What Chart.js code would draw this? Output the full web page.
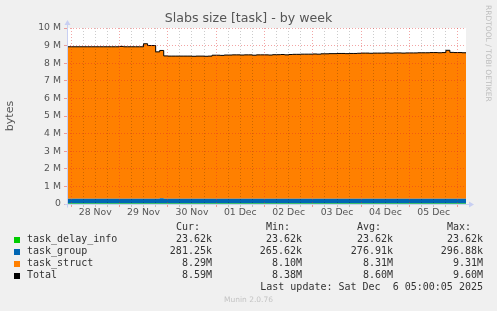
<!DOCTYPE html>
<html><head><meta charset="utf-8">
<script src="https://cdn.jsdelivr.net/npm/chart.js@4/dist/chart.umd.min.js"></script>
<style>
html,body{margin:0;padding:0;background:#f0f0f0;}
#wrap{position:relative;width:497px;height:311px;overflow:hidden;background:#f0f0f0;}
canvas{position:absolute;left:0;top:0;}
.t{position:absolute;white-space:pre;line-height:10px;}
.mono{font-family:"DejaVu Sans Mono",monospace;font-size:10px;color:#333;}
</style></head><body>
<div id="wrap"><canvas id="c" width="497" height="311"></canvas></div>
<script>
// ---- data (values in M bytes), one sample every 2 hours starting 27 Nov 22:00 ----
const taskStruct = [
  8.70, 8.63, 8.63, 8.63, 8.63, 8.63, 8.63, 8.63, 8.63, 8.63,
  8.63, 8.63, 8.63, 8.63, 8.65, 8.63, 8.63, 8.63, 8.63, 8.63,
  8.80, 8.70, 8.70, 8.34, 8.40, 8.11, 8.11, 8.11, 8.11, 8.11,
  8.11, 8.11, 8.10, 8.11, 8.11, 8.10, 8.11, 8.16, 8.16, 8.15,
  8.16, 8.16, 8.17, 8.17, 8.16, 8.17, 8.17, 8.15, 8.17, 8.17,
  8.17, 8.16, 8.18, 8.18, 8.19, 8.17, 8.19, 8.20, 8.20, 8.21,
  8.21, 8.21, 8.22, 8.21, 8.23, 8.23, 8.24, 8.24, 8.25, 8.25,
  8.24, 8.25, 8.25, 8.26, 8.27, 8.27, 8.26, 8.27, 8.27, 8.27,
  8.28, 8.27, 8.28, 8.28, 8.27, 8.28, 8.28, 8.28, 8.29, 8.29,
  8.29, 8.30, 8.30, 8.29, 8.30, 8.43, 8.31, 8.30, 8.30, 8.29
];
const taskGroup = [
  0.28, 0.28, 0.28, 0.28, 0.28, 0.28, 0.28, 0.28, 0.28, 0.28,
  0.28, 0.28, 0.28, 0.28, 0.28, 0.28, 0.28, 0.28, 0.28, 0.28,
  0.28, 0.28, 0.28, 0.28, 0.30, 0.28, 0.27, 0.27, 0.27, 0.27,
  0.27, 0.27, 0.27, 0.27, 0.27, 0.27, 0.27, 0.27, 0.27, 0.27,
  0.28, 0.28, 0.28, 0.28, 0.28, 0.28, 0.28, 0.28, 0.28, 0.28,
  0.28, 0.28, 0.28, 0.28, 0.28, 0.28, 0.28, 0.28, 0.28, 0.28,
  0.28, 0.28, 0.28, 0.28, 0.28, 0.28, 0.28, 0.28, 0.28, 0.28,
  0.28, 0.28, 0.28, 0.28, 0.28, 0.28, 0.28, 0.28, 0.28, 0.28,
  0.28, 0.28, 0.28, 0.28, 0.28, 0.28, 0.28, 0.28, 0.28, 0.28,
  0.28, 0.28, 0.28, 0.28, 0.28, 0.28, 0.28, 0.28, 0.28, 0.28
];
const taskDelayInfo = [
  0.02362,0.02362,0.02362,0.02362,0.02362,0.02362,0.02362,0.02362,0.02362,0.02362,
  0.02362,0.02362,0.02362,0.02362,0.02362,0.02362,0.02362,0.02362,0.02362,0.02362,
  0.02362,0.02362,0.02362,0.02362,0.02362,0.02362,0.02362,0.02362,0.02362,0.02362,
  0.02362,0.02362,0.02362,0.02362,0.02362,0.02362,0.02362,0.02362,0.02362,0.02362,
  0.02362,0.02362,0.02362,0.02362,0.02362,0.02362,0.02362,0.02362,0.02362,0.02362,
  0.02362,0.02362,0.02362,0.02362,0.02362,0.02362,0.02362,0.02362,0.02362,0.02362,
  0.02362,0.02362,0.02362,0.02362,0.02362,0.02362,0.02362,0.02362,0.02362,0.02362,
  0.02362,0.02362,0.02362,0.02362,0.02362,0.02362,0.02362,0.02362,0.02362,0.02362,
  0.02362,0.02362,0.02362,0.02362,0.02362,0.02362,0.02362,0.02362,0.02362,0.02362,
  0.02362,0.02362,0.02362,0.02362,0.02362,0.02362,0.02362,0.02362,0.02362,0.02362
];
const dayLabels = ['28 Nov','29 Nov','30 Nov','01 Dec','02 Dec','03 Dec','04 Dec','05 Dec'];
const seriesNames = ['task_delay_info','task_group','task_struct','Total'];
const statCur = ['23.62k','281.25k','8.29M','8.59M'];
const statMin = ['23.62k','265.62k','8.10M','8.38M'];
const statAvg = ['23.62k','276.91k','8.31M','8.60M'];
const statMax = ['23.62k','296.88k','9.31M','9.60M'];
const lastUpdate = 'Last update: Sat Dec  6 05:00:05 2025';

// ---- build ----
const hours = taskStruct.map((_, i) => -2 + 2 * i);
const xy = arr => hours.map((h, i) => ({x: h, y: arr[i]}));
const total = hours.map((h, i) => ({x: h, y: taskDelayInfo[i] + taskGroup[i] + taskStruct[i]}));
const COLORS = ['#00CC00', '#0066B3', '#FF8000', '#000000'];

const bgPlugin = {
  id: 'bg',
  beforeDraw(chart) {
    const {ctx, chartArea: a} = chart;
    ctx.save(); ctx.fillStyle = '#ffffff';
    ctx.fillRect(a.left, a.top, a.right - a.left, a.bottom - a.top);
    ctx.restore();
  },
  afterDraw(chart) {
    const {ctx, chartArea: a} = chart;
    ctx.save();
    ctx.strokeStyle = '#c8cff2'; ctx.fillStyle = '#c8cff2'; ctx.lineWidth = 1;
    const x0 = Math.round(a.left) + 0.5, y0 = Math.round(a.bottom) + 0.5;
    ctx.beginPath(); ctx.moveTo(x0, y0 + 3); ctx.lineTo(x0, a.top - 5); ctx.stroke();
    ctx.beginPath(); ctx.moveTo(x0 - 3, a.top - 3); ctx.lineTo(x0 + 3, a.top - 3); ctx.lineTo(x0, a.top - 8); ctx.closePath(); ctx.fill();
    ctx.beginPath(); ctx.moveTo(x0 - 3, y0); ctx.lineTo(a.right + 5, y0); ctx.stroke();
    ctx.beginPath(); ctx.moveTo(a.right + 3, y0 - 3); ctx.lineTo(a.right + 3, y0 + 3); ctx.lineTo(a.right + 8, y0); ctx.closePath(); ctx.fill();
    ctx.restore();
  }
};

const MAJ = 'rgba(225,40,40,0.42)';
const MIN = 'rgba(0,0,0,0.2)';

new Chart(document.getElementById('c'), {
  type: 'line',
  data: {
    datasets: [
      {label: seriesNames[0], data: xy(taskDelayInfo), backgroundColor: COLORS[0], borderWidth: 0, fill: 'origin', stepped: 'after', pointRadius: 0, stack: 's', order: 1},
      {label: seriesNames[1], data: xy(taskGroup), backgroundColor: COLORS[1], borderWidth: 0, fill: '-1', stepped: 'after', pointRadius: 0, stack: 's', order: 1},
      {label: seriesNames[2], data: xy(taskStruct), backgroundColor: COLORS[2], borderWidth: 0, fill: '-1', stepped: 'after', pointRadius: 0, stack: 's', order: 1},
      {label: seriesNames[3], data: total, borderColor: COLORS[3], borderWidth: 1, fill: false, stepped: 'after', pointRadius: 0, stack: 't', order: 0}
    ]
  },
  options: {
    responsive: false, animation: false,
    layout: {padding: {left: 0, top: 28, right: 31, bottom: 87}},
    plugins: {legend: {display: false}, tooltip: {enabled: false}, title: {display: false}},
    scales: {
      x: {
        type: 'linear', min: -2, max: 196,
        afterBuildTicks(s) { const t = []; for (let h = 0; h <= 192; h += 6) t.push({value: h}); s.ticks = t; },
        afterFit(s) { s.height = 20; },
        ticks: {
          autoSkip: false, maxRotation: 0, padding: 0, color: '#555',
          font: {family: 'DejaVu Sans', size: 9.3},
          callback: v => (v % 24 === 12 ? dayLabels[(v - 12) / 24] : '')
        },
        grid: {
          z: 1,
          color: c => (c.tick && c.tick.value % 24 === 0 ? MAJ : MIN),
          tickColor: c => (c.tick && c.tick.value % 24 === 0 ? MAJ : MIN),
          tickLength: 3, lineWidth: 1
        },
        border: {display: false, dash: [1, 2]}
      },
      y: {
        min: 0, max: 10, stacked: true,
        afterBuildTicks(s) { const t = []; for (let v = 0; v <= 10; v += 0.5) t.push({value: v}); s.ticks = t; },
        afterFit(s) { s.width = 67; },
        ticks: {
          padding: 3, color: '#555', font: {family: 'DejaVu Sans', size: 9.3},
          callback: v => (Number.isInteger(v) ? (v === 0 ? '0' : v + ' M') : '')
        },
        grid: {
          z: 1,
          color: c => (c.tick && Number.isInteger(c.tick.value) ? MAJ : MIN),
          tickColor: c => (c.tick && Number.isInteger(c.tick.value) ? MAJ : MIN),
          tickLength: 3, lineWidth: 1
        },
        border: {display: false, dash: [1, 2]},
        title: {display: true, text: 'bytes', color: '#555', font: {family: 'DejaVu Sans', size: 11}, padding: {top: 4, bottom: 0}}
      }
    }
  },
  plugins: [bgPlugin]
});

// ---- HTML texts ----
const wrap = document.getElementById('wrap');
function addText(txt, css, cls) {
  const d = document.createElement('div');
  d.className = 't ' + (cls || '');
  d.textContent = txt;
  d.style.cssText += css;
  wrap.appendChild(d);
  return d;
}
addText('Slabs size [task] - by week', 'left:0;width:497px;text-align:center;top:11px;font-family:"DejaVu Sans";font-size:12.6px;line-height:14px;color:#555;');
addText('RRDTOOL / TOBI OETIKER', 'left:484px;top:5px;writing-mode:vertical-rl;font-family:"DejaVu Sans";font-size:7.5px;line-height:8px;color:#bdbdbd;');
const colR = [212, 302, 393, 483];
const hdr = ['Cur:', 'Min:', 'Avg:', 'Max:'];
hdr.forEach((h, i) => addText(h, `right:${497 - colR[i] + 12}px;top:222px;`, 'mono'));
const stats = [statCur, statMin, statAvg, statMax];
seriesNames.forEach((n, r) => {
  const top = 234 + r * 12;
  const sq = document.createElement('div');
  sq.style.cssText = `position:absolute;left:14px;top:${top + 3}px;width:6px;height:6px;background:${COLORS[r]};`;
  wrap.appendChild(sq);
  addText(n, `left:27px;top:${top}px;`, 'mono');
  stats.forEach((s, c) => addText(s[r], `right:${497 - colR[c]}px;top:${top}px;`, 'mono'));
});
addText(lastUpdate, `right:${497 - 483}px;top:282px;`, 'mono');
addText('Munin 2.0.76', 'left:0;width:497px;text-align:center;top:296px;font-family:"DejaVu Sans";font-size:7.5px;line-height:8px;color:#c4c4c4;');
</script>
</body></html>
